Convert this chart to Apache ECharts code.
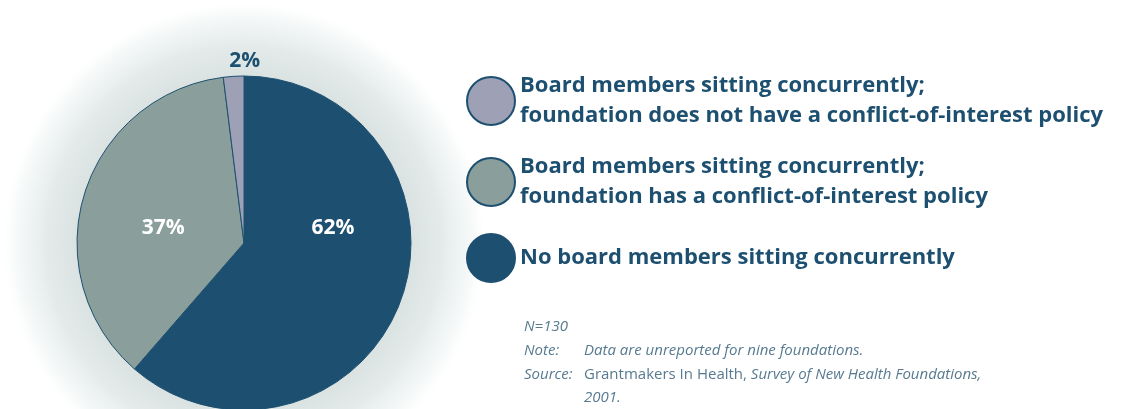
<!DOCTYPE html>
<html>
<head>
<meta charset="utf-8">
<script src="https://cdn.jsdelivr.net/npm/echarts@6/dist/echarts.min.js"></script>
<style>
  html, body { margin: 0; padding: 0; background: #fff; }
  #chart { width: 1125px; height: 409px; }
</style>
</head>
<body>
<div id="chart"></div>
<script>
// 数据
const categories = [
    'No board members sitting concurrently',
    'Board members sitting concurrently;\nfoundation has a conflict-of-interest policy',
    'Board members sitting concurrently;\nfoundation does not have a conflict-of-interest policy'
]
const values = [ 62, 37, 2 ]
const legendOrder = [ 2, 1, 0 ]
const notes = [ 'N=130', 'Note:', 'Source:' ]

const colors = [ '#1d5070', '#8a9e9c', '#9ea1b5' ]
const dark = '#1d5070'
const noteColor = '#577a90'
const noteFont = 'italic 15px "Open Sans"'
// label 微调
const labelStyles = [
    { color: '#fff', offset: [ 8, -45 ] },
    { color: '#fff', offset: [ 2, 10 ] },
    { color: dark, offset: [ 6, -96 ] }
]

const chart = echarts.init( document.getElementById( 'chart' ) )
const cx = 244, cy = 243

const option = {
    animation: false,
    textStyle: { fontFamily: 'Open Sans' },
    graphic: [
        {
            type: 'circle',
            z: -10,
            shape: { cx, cy, r: 240 },
            style: {
                fill: {
                    type: 'radial', x: 0.5, y: 0.5, r: 0.5,
                    colorStops: [
                        { offset: 0, color: '#d6e0df' },
                        { offset: 0.7, color: '#dae3e2' },
                        { offset: 0.82, color: '#e4eaea' },
                        { offset: 0.93, color: '#f4f7f7' },
                        { offset: 1, color: '#ffffff' }
                    ]
                }
            }
        },
        {
            type: 'text', left: 524, top: 319,
            style: { text: notes[0], font: noteFont, fill: noteColor }
        },
        {
            type: 'text', left: 524, top: 343,
            style: { text: notes[1], font: noteFont, fill: noteColor }
        },
        {
            type: 'text', left: 584, top: 343,
            style: { text: 'Data are unreported for nine foundations.', font: noteFont, fill: noteColor }
        },
        {
            type: 'text', left: 524, top: 367,
            style: { text: notes[2], font: noteFont, fill: noteColor }
        },
        {
            type: 'text', left: 584, top: 367,
            style: {
                text: '{n|Grantmakers In Health, }{i|Survey of New Health Foundations,}',
                fill: noteColor,
                rich: {
                    n: { fontFamily: 'Open Sans', fontSize: 15, fill: noteColor },
                    i: { fontFamily: 'Open Sans', fontStyle: 'italic', fontSize: 15, fill: noteColor }
                }
            }
        },
        {
            type: 'text', left: 584, top: 390,
            style: { text: '2001.', font: noteFont, fill: noteColor }
        }
    ],
    legend: {
        orient: 'vertical',
        left: 466,
        top: 71,
        padding: 0,
        itemWidth: 48,
        itemHeight: 48,
        itemGap: 21,
        icon: 'circle',
        selectedMode: false,
        data: legendOrder.map( i => categories[i] ),
        textStyle: {
            color: dark,
            fontSize: 22,
            fontWeight: 'bold',
            fontFamily: 'Open Sans',
            lineHeight: 30
        }
    },
    series: [
        {
            type: 'pie',
            center: [ cx, cy ],
            radius: 167,
            startAngle: 90,
            clockwise: true,
            z: 2,
            itemStyle: { borderColor: dark, borderWidth: 1 },
            emphasis: { disabled: true },
            labelLine: { show: false },
            label: {
                position: 'inside',
                formatter: '{c}%',
                fontSize: 21,
                fontWeight: 'bold',
                fontFamily: 'Open Sans'
            },
            data: values.map( ( v, i ) => ({
                name: categories[i],
                value: v,
                itemStyle: { color: colors[i] },
                label: labelStyles[i]
            }))
        }
    ]
}
chart.setOption( option )
</script>
</body>
</html>
